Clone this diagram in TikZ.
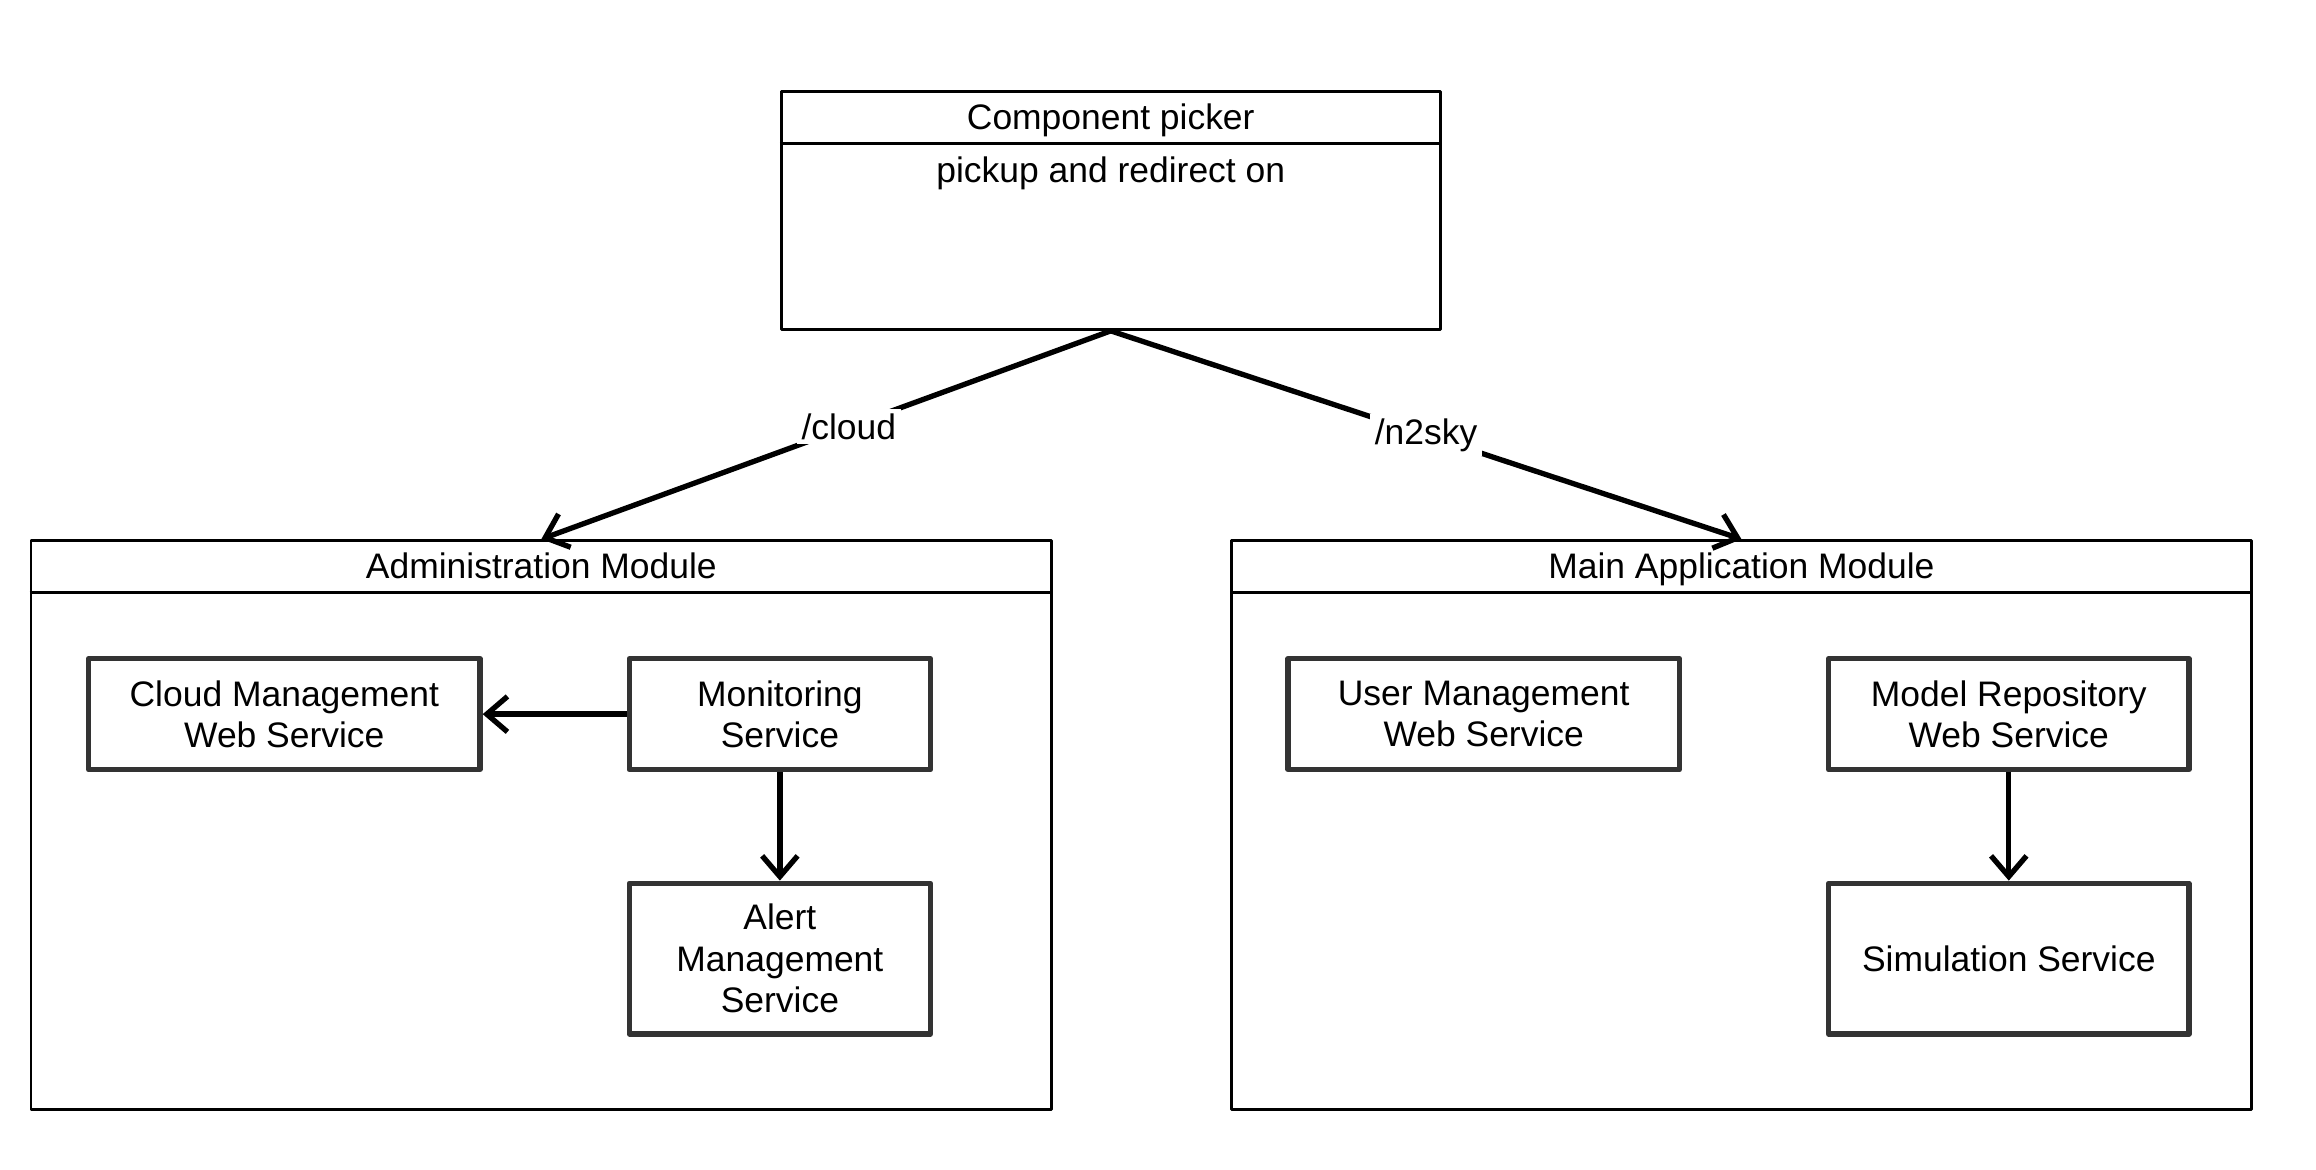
\documentclass[tikz,border=0pt]{standalone}
\usepackage{fontspec}
\setmainfont{Liberation Sans}
\usetikzlibrary{arrows.meta,calc,positioning}
\definecolor{boxgray}{HTML}{333333}
\tikzset{frame/.style={draw,line width=1pt,inner sep=0pt},
  hdr/.style={text height=9pt,text depth=2.5pt},
  svc/.style={draw=boxgray,line width=1.8pt,align=center,inner sep=0pt,minimum height=37.5pt},
  link/.style={->,line width=1.8pt},
  lbl/.style={fill=white,inner sep=1.5pt}}

\begin{document}
\begin{tikzpicture}[x=0.5pt,y=-0.5pt,>={Straight Barb[length=7pt,width=12pt]},line join=round,font=\fontsize{12}{14}\selectfont]
\useasboundingbox (0,0) rectangle (1568,792);
% --- component picker on top
\node[frame,minimum width=223pt,minimum height=80.5pt] (picker) at (752,142.5) {};
\draw[line width=1pt] ([yshift=-18pt]picker.north west) -- ([yshift=-18pt]picker.north east);
\node[hdr] (pickname) at (752,81) {Component picker};
\node[hdr] (pickdesc) at (752,117) {pickup and redirect on};
% --- the two modules
\node[frame,minimum width=345.5pt,minimum height=192.5pt] (admin) at (366.5,558.5) {};
\draw[line width=1pt] ([yshift=-18pt]admin.north west) -- ([yshift=-18pt]admin.north east);
\node[hdr] (adminname) at (366.5,385) {Administration Module};
\node[frame,minimum width=345pt,minimum height=192.5pt] (mainapp) at (1179,558.5) {};
\draw[line width=1pt] ([yshift=-18pt]mainapp.north west) -- ([yshift=-18pt]mainapp.north east);
\node[hdr] (mainappname) at (1179,385) {Main Application Module};
% --- services
\node[svc,minimum width=132.5pt] (cloudws) at (192.5,483.5) {Cloud Management\\Web Service};
\node[svc,minimum width=102pt] (monitor) at (528,483.5) {Monitoring\\Service};
\node[svc,minimum width=102pt,minimum height=51pt] (alert) at (528,649) {Alert\\Management\\Service};
\node[svc,minimum width=132.5pt] (userws) at (1004.5,483.5) {User Management\\Web Service};
\node[svc,minimum width=122pt] (modelrepo) at (1360,483.5) {Model Repository\\Web Service};
\node[svc,minimum width=122pt,minimum height=51pt] (simul) at (1360,649) {Simulation Service};
% --- connectors
\draw[link] (picker.south) -- node[lbl,pos=0.46] {/cloud} (admin.north);
\draw[link] (picker.south) -- node[lbl] {/n2sky} (mainapp.north);
\draw[link] (monitor) -- (cloudws);
\draw[link] (monitor) -- (alert);
\draw[link] (modelrepo) -- (simul);
\end{tikzpicture}
\end{document}
